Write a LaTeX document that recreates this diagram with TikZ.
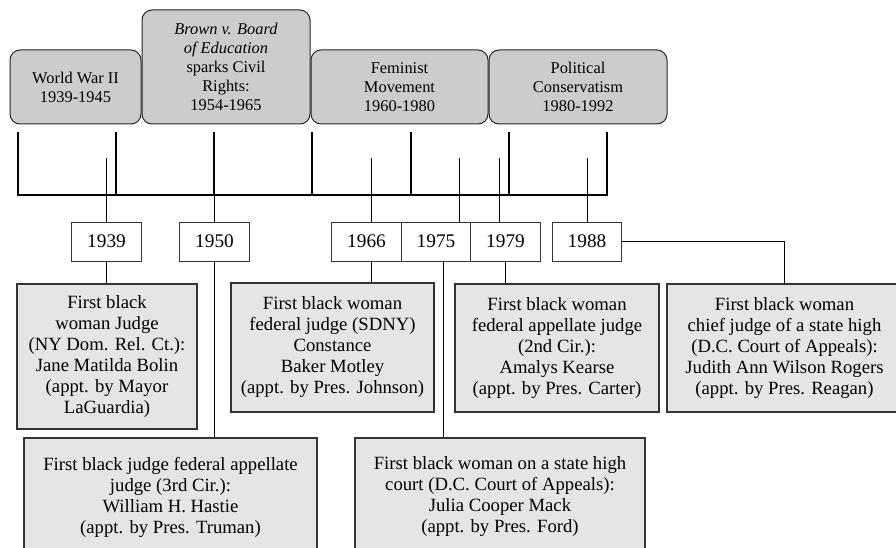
\documentclass[tikz,border=0pt]{standalone}
\usepackage{fontspec}
\setmainfont{Liberation Serif}
\usetikzlibrary{positioning}

\tikzset{
  era/.style={draw=black!85, fill=gray!40, rounded corners=10pt, line width=1pt,
    align=center, inner sep=0pt, font=\fontsize{16.4}{19}\selectfont},
  yearbox/.style={draw=black!80, fill=white, line width=1pt, outer sep=0pt,
    minimum width=69.5pt, minimum height=39pt, inner sep=0pt,
    font=\fontsize{19.3}{22}\selectfont},
  judge/.style={draw=black!80, fill=gray!20, line width=1.2pt, align=center,
    inner sep=0pt, font=\fontsize{18.7}{21}\selectfont},
  link/.style={line width=0.9pt},
  bracket/.style={line width=2pt}
}

\begin{document}
\begin{tikzpicture}[x=1pt, y=-1pt]
  \useasboundingbox (0,0) rectangle (896,548);
  \clip (0,0) rectangle (896,548);

  \node (ww2) [era, minimum width=131pt, minimum height=74pt] at (75.5,87) {World War II\\1939-1945};
  \node (brown) [era, minimum width=168pt, minimum height=114pt] at (226,67) {\textit{Brown v. Board}\\\textit{of Education}\\sparks Civil\\Rights:\\1954-1965};
  \node (fem) [era, minimum width=177pt, minimum height=74pt] at (399.5,87) {Feminist\\Movement\\1960-1980};
  \node (pol) [era, minimum width=178pt, minimum height=74pt] at (578,87) {Political\\Conservatism\\1980-1992};

  \draw [bracket] (18,132) -- (18,195) -- (607,195) -- (607,132);
  \foreach \x in {116,214,312,411,509}
    \draw [bracket] (\x,132) -- (\x,195);

  \coordinate (t1939) at (106,158);
  \coordinate (t1950) at (214,158);
  \coordinate (t1966) at (371,158);
  \coordinate (t1975) at (459,158);
  \coordinate (t1979) at (499,158);
  \coordinate (t1988) at (587,158);

  \node (y1939) [yearbox] at (106.5,241.5) {1939};
  \node (y1950) [yearbox] at (214.5,241.5) {1950};
  \node (y1966) [yearbox] at (366.5,241.5) {1966};
  \node (y1975) [yearbox, right=0pt of y1966] {1975};
  \node (y1979) [yearbox, right=0pt of y1975] {1979};
  \node (y1988) [yearbox] at (587,241.5) {1988};

  \node (j1939) [judge, minimum width=180pt, minimum height=145pt] at (107,356.5) {First black\\woman Judge\\(NY Dom. Rel. Ct.):\\Jane Matilda Bolin\\(appt. by Mayor\\LaGuardia)};
  \node (j1966) [judge, minimum width=203pt, minimum height=129pt] at (332.5,347.5) {First black woman\\federal judge (SDNY)\\Constance\\Baker Motley\\(appt. by Pres. Johnson)};
  \node (j1979) [judge, minimum width=204pt, minimum height=128pt] at (557,348) {First black woman\\federal appellate judge\\(2nd Cir.):\\Amalys Kearse\\(appt. by Pres. Carter)};
  \node (j1988) [judge, minimum width=235pt, minimum height=128pt] at (784.5,348) {First black woman\\chief judge of a state high\\(D.C. Court of Appeals):\\Judith Ann Wilson Rogers\\(appt. by Pres. Reagan)};
  \node (j1950) [judge, minimum width=293pt, minimum height=118pt] at (170.5,497) {First black judge federal appellate\\judge (3rd Cir.):\\William H. Hastie\\(appt. by Pres. Truman)};
  \node (j1975) [judge, minimum width=290pt, minimum height=118pt] at (500,497) {First black woman on a state high\\court (D.C. Court of Appeals):\\Julia Cooper Mack\\(appt. by Pres. Ford)};

  \coordinate (b1975) at ([xshift=7pt]y1975.south);

  \draw [link] (t1939) -- (t1939 |- y1939.north);
  \draw [link] (t1950) -- (t1950 |- y1950.north);
  \draw [link] (t1966) -- (t1966 |- y1966.north);
  \draw [link] (t1975) -- (t1975 |- y1975.north);
  \draw [link] (t1979) -- (t1979 |- y1979.north);
  \draw [link] (t1988) -- (t1988 |- y1988.north);

  \draw [link] (t1939 |- y1939.south) -- (t1939 |- j1939.north);
  \draw [link] (t1950 |- y1950.south) -- (t1950 |- j1950.north);
  \draw [link] (t1966 |- y1966.south) -- (t1966 |- j1966.north);
  \draw [link] (b1975) -- (b1975 |- j1975.north);
  \draw [link] (y1979.south) -- (y1979.south |- j1979.north);
  \draw [link] (y1988.east) -| (j1988.north);
\end{tikzpicture}
\end{document}
